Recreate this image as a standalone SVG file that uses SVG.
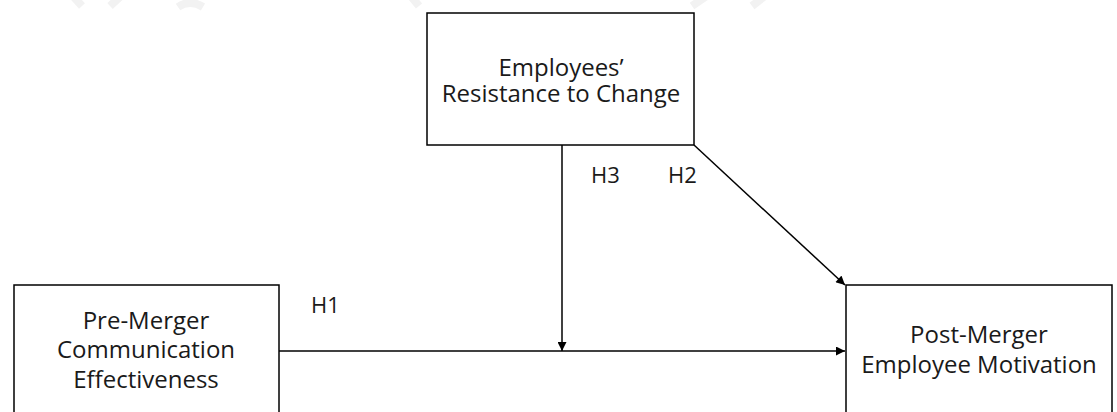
<svg xmlns="http://www.w3.org/2000/svg" width="1117" height="412" viewBox="0 0 1117 412">
  <style>
    .box { fill: #ffffff; stroke: #000000; stroke-width: 1.5; }
    .lbl { font-family: "Open Sans", "Noto Sans", "Liberation Sans", sans-serif; font-size: 24px; fill: #1a1a1a; text-anchor: middle; }
    .hyp { font-family: "Open Sans", "Noto Sans", "Liberation Sans", sans-serif; font-size: 22px; fill: #1a1a1a; }
    .edge { fill: none; stroke: #000000; stroke-width: 1.5; }
    .wm { fill: none; stroke: #f2f2f2; stroke-width: 8; }
  </style>
  <defs>
    <marker id="arrow" viewBox="0 0 10 10" refX="10" refY="5" markerWidth="10" markerHeight="9" markerUnits="userSpaceOnUse" orient="auto">
      <path d="M0,0 L10,5 L0,10 z" fill="#000000"/>
    </marker>
  </defs>
  <rect width="1117" height="412" fill="#ffffff"/>
  <g id="watermark">
    <path class="wm" d="M72,-5 L82,6"/>
    <path class="wm" d="M110,6 L122,-5"/>
    <path class="wm" d="M178,7 Q190,-1 203,7"/>
    <path class="wm" d="M410,-5 L419,6"/>
    <path class="wm" d="M692,6 L708,-5"/>
    <path class="wm" d="M752,6 L766,-5"/>
  </g>
  <g id="connectors">
    <line class="edge" x1="279" y1="351" x2="845" y2="351" marker-end="url(#arrow)"/>
    <line class="edge" x1="562" y1="145" x2="562" y2="351" marker-end="url(#arrow)"/>
    <line class="edge" x1="694" y1="145" x2="845" y2="285" marker-end="url(#arrow)"/>
  </g>
  <g id="labels">
    <text class="hyp" x="311" y="313">H1</text>
    <text class="hyp" x="591" y="183">H3</text>
    <text class="hyp" x="668" y="183">H2</text>
  </g>
  <g id="node-resistance">
    <rect class="box" x="427" y="13" width="267" height="132"/>
    <text class="lbl" x="561" y="76">Employees’</text>
    <text class="lbl" x="561" y="102">Resistance to Change</text>
  </g>
  <g id="node-communication">
    <rect class="box" x="14" y="285" width="265" height="140"/>
    <text class="lbl" x="146" y="329">Pre-Merger</text>
    <text class="lbl" x="146" y="358">Communication</text>
    <text class="lbl" x="146" y="388">Effectiveness</text>
  </g>
  <g id="node-motivation">
    <rect class="box" x="846" y="285" width="266" height="140"/>
    <text class="lbl" x="979" y="343">Post-Merger</text>
    <text class="lbl" x="979" y="373">Employee Motivation</text>
  </g>
</svg>
